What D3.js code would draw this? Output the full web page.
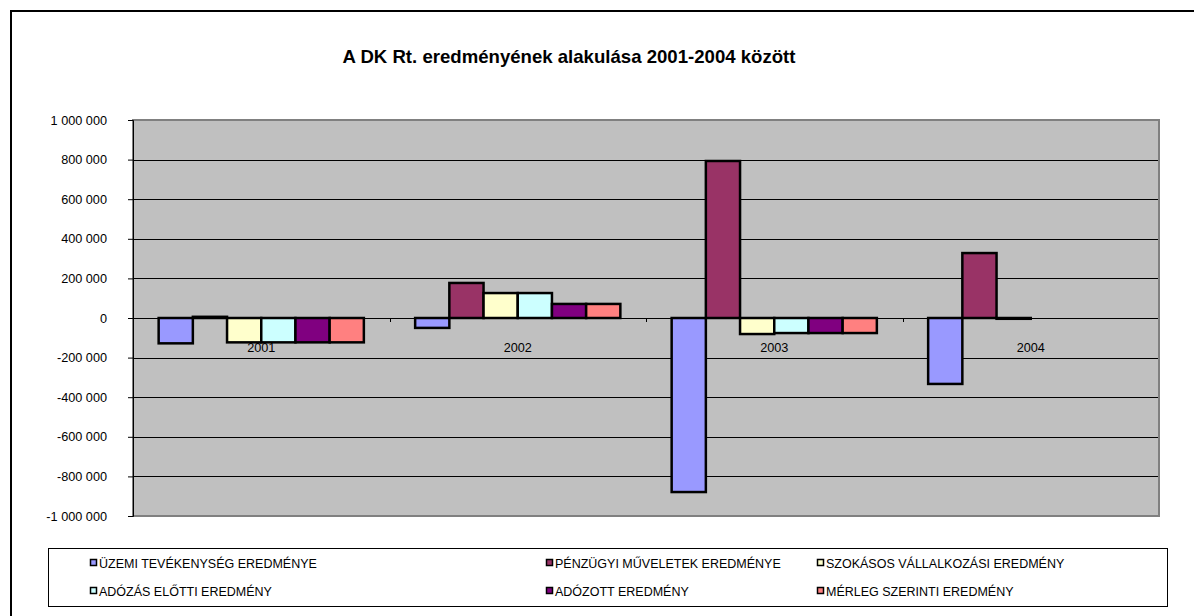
<!DOCTYPE html>
<html>
<head>
<meta charset="utf-8">
<script src="https://cdn.jsdelivr.net/npm/d3@7"></script>
<style>
  body { margin: 0; background: #fff; }
  svg { font-family: Arial, "Liberation Sans", sans-serif; }
</style>
</head>
<body>
<div class="chart"></div>
<script>
// data
var categories = ['2001', '2002', '2003', '2004'];
var seriesNames = [
	'ÜZEMI TEVÉKENYSÉG EREDMÉNYE',
	'PÉNZÜGYI MŰVELETEK EREDMÉNYE',
	'SZOKÁSOS VÁLLALKOZÁSI EREDMÉNY',
	'ADÓZÁS ELŐTTI EREDMÉNY',
	'ADÓZOTT EREDMÉNY',
	'MÉRLEG SZERINTI EREDMÉNY'
];
var uzemi = [-128000, -50000, -879000, -333000];
var penzugyi = [6000, 177000, 793000, 328000];
var szokasos = [-123000, 126000, -81000, -4000];
var adozasElotti = [-123000, 126000, -76000, null];
var adozott = [-123000, 71000, -76000, null];
var merleg = [-123000, 71000, -76000, null];
var yTicks = [-1000000, -800000, -600000, -400000, -200000, 0, 200000, 400000, 600000, 800000, 1000000];

var seriesValues = [uzemi, penzugyi, szokasos, adozasElotti, adozott, merleg];
var colors = ['#9999ff', '#993366', '#ffffcc', '#ccffff', '#800080', '#ff8080'];

var svgWidth = 1194;
var svgHeight = 616;

// plot area
var plot = { left: 133, right: 1159, top: 120, bottom: 516 };

var svg = d3.select('.chart')
	.append('svg')
	.attr('width', svgWidth)
	.attr('height', svgHeight);

// outer chart border
svg.append('rect')
	.attr('x', 11).attr('y', 11)
	.attr('width', svgWidth).attr('height', svgHeight)
	.attr('fill', '#fff')
	.attr('stroke', '#000')
	.attr('stroke-width', 2);

// title
svg.append('text')
	.attr('x', 569)
	.attr('y', 63)
	.attr('text-anchor', 'middle')
	.style('font-size', '18.6px')
	.style('font-weight', 'bold')
	.text('A DK Rt. eredményének alakulása 2001-2004 között');

// scales
var x0 = d3.scaleBand().domain(categories).range([plot.left, plot.right]);
var x1 = d3.scaleBand().domain(d3.range(seriesNames.length))
	.range([0, x0.bandwidth()])
	.paddingOuter(0.75);
var y = d3.scaleLinear().domain([-1000000, 1000000]).range([plot.bottom, plot.top]);

var locale = d3.formatLocale({ decimal: ',', thousands: ' ', grouping: [3], currency: ['', ''], minus: '-' });
var fmt = locale.format(',d');

// plot background
svg.append('rect')
	.attr('x', plot.left).attr('y', plot.top)
	.attr('width', plot.right - plot.left).attr('height', plot.bottom - plot.top)
	.attr('fill', '#c0c0c0');

// gridlines
svg.append('g')
	.selectAll('line')
	.data(yTicks)
	.enter()
	.append('line')
	.attr('x1', plot.left).attr('x2', plot.right)
	.attr('y1', function(d) { return Math.round(y(d)) + 0.5; })
	.attr('y2', function(d) { return Math.round(y(d)) + 0.5; })
	.attr('stroke', '#000')
	.attr('stroke-width', 1);

// plot border
svg.append('rect')
	.attr('x', plot.left).attr('y', plot.top)
	.attr('width', plot.right - plot.left).attr('height', plot.bottom - plot.top)
	.attr('fill', 'none')
	.attr('stroke', '#808080')
	.attr('stroke-width', 2);

// bars
var groups = svg.append('g')
	.selectAll('g')
	.data(categories)
	.enter()
	.append('g')
	.attr('transform', function(d) { return 'translate(' + x0(d) + ',0)'; });

groups.selectAll('rect')
	.data(function(d, i) {
		return seriesValues.map(function(vals, s) { return { s: s, v: vals[i] }; })
			.filter(function(e) { return e.v !== null; });
	})
	.enter()
	.append('rect')
	.attr('x', function(d) { return x1(d.s); })
	.attr('width', x1.bandwidth())
	.attr('y', function(d) { return y(Math.max(0, d.v)); })
	.attr('height', function(d) { return Math.abs(y(d.v) - y(0)); })
	.attr('fill', function(d) { return colors[d.s]; })
	.attr('stroke', '#000')
	.attr('stroke-width', 2.5);

// y axis
var leftAxis = d3.axisLeft(y).tickValues(yTicks).tickFormat(fmt).tickSize(5).tickPadding(21);
var yAxisG = svg.append('g')
	.attr('transform', 'translate(' + plot.left + ',0)')
	.call(leftAxis);
yAxisG.select('.domain').attr('stroke', '#000');
yAxisG.selectAll('text').style('font-size', '12.7px').attr('fill', '#000').attr('font-family', null);

// category axis on the zero line
var catAxis = d3.axisBottom(x0).tickSize(0).tickPadding(24);
var xAxisG = svg.append('g')
	.attr('transform', 'translate(0,' + (Math.round(y(0)) + 0.5) + ')')
	.call(catAxis);
xAxisG.select('.domain').remove();
xAxisG.selectAll('text').style('font-size', '12.7px').attr('fill', '#000').attr('font-family', null);

// category tick marks at boundaries
svg.append('g')
	.selectAll('line')
	.data(categories.slice(1))
	.enter()
	.append('line')
	.attr('x1', function(d) { return Math.round(x0(d)) + 0.5; })
	.attr('x2', function(d) { return Math.round(x0(d)) + 0.5; })
	.attr('y1', y(0)).attr('y2', y(0) + 4)
	.attr('stroke', '#000');

// legend
var legend = svg.append('g');
legend.append('rect')
	.attr('x', 48.5).attr('y', 548.5)
	.attr('width', 1119).attr('height', 58)
	.attr('fill', '#fff')
	.attr('stroke', '#000');

var legendCols = [90, 546, 817];
var legendRows = [563, 591];

var items = legend.selectAll('g.item')
	.data(seriesNames)
	.enter()
	.append('g')
	.attr('class', 'item')
	.attr('transform', function(d, i) {
		return 'translate(' + legendCols[i % 3] + ',' + legendRows[Math.floor(i / 3)] + ')';
	});

items.append('rect')
	.attr('x', 0.5).attr('y', -3.5)
	.attr('width', 6).attr('height', 6)
	.attr('fill', function(d, i) { return colors[i]; })
	.attr('stroke', '#000')
	.attr('stroke-width', 1.5);

items.append('text')
	.attr('x', 9)
	.attr('y', 4.5)
	.style('font-size', '12.5px')
	.text(function(d) { return d; });
</script>
</body>
</html>
